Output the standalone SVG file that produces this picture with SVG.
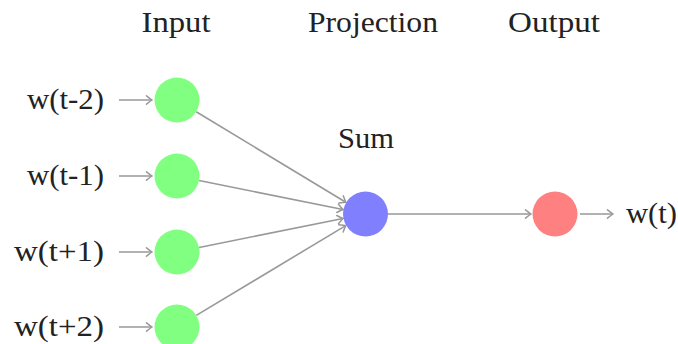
<svg xmlns="http://www.w3.org/2000/svg" width="678" height="344" viewBox="0 0 678 344">
  <style>
    text { font-family: "Liberation Serif", "Times New Roman", serif; font-size: 29px; fill: #222; }
    .lbl { text-anchor: end; }
    .ttl { text-anchor: middle; }
    .edge { stroke: #999; stroke-width: 1.6; fill: none; marker-end: url(#to); }
    .in { fill: #80ff80; }
    .proj { fill: #8080ff; }
    .out { fill: #ff8080; }
  </style>
  <defs>
    <!-- open "to"-style arrow tip -->
    <marker id="to" viewBox="-7 -6 9 12" refX="0" refY="0" markerWidth="9" markerHeight="12" markerUnits="userSpaceOnUse" orient="auto">
      <path d="M-5.5,-4.2 Q-1.5,-1 0,0 Q-1.5,1 -5.5,4.2" fill="none" stroke="#999" stroke-width="1.5" stroke-linecap="round"/>
    </marker>
  </defs>

  <!-- layer titles -->
  <text class="ttl" x="176" y="32" textLength="69" lengthAdjust="spacingAndGlyphs">Input</text>
  <text class="ttl" x="373" y="32" textLength="130" lengthAdjust="spacingAndGlyphs">Projection</text>
  <text class="ttl" x="554" y="32" textLength="92" lengthAdjust="spacingAndGlyphs">Output</text>

  <!-- connectors -->
  <g id="connectors">
    <line class="edge" x1="119" y1="100" x2="152" y2="100"/>
    <line class="edge" x1="119" y1="176" x2="152" y2="176"/>
    <line class="edge" x1="119" y1="252" x2="152" y2="252"/>
    <line class="edge" x1="119" y1="327" x2="152" y2="327"/>
    <line class="edge" x1="196.2" y1="111.7" x2="345.8" y2="202.3"/>
    <line class="edge" x1="199.1" y1="180.5" x2="343" y2="209.5"/>
    <line class="edge" x1="199.1" y1="247.5" x2="343" y2="218.5"/>
    <line class="edge" x1="196.3" y1="315.4" x2="345.7" y2="225.6"/>
    <line class="edge" x1="388" y1="214" x2="531" y2="214"/>
    <line class="edge" x1="580" y1="214" x2="613" y2="214"/>
  </g>

  <!-- input words -->
  <g id="in1"><text class="lbl" x="104" y="109" textLength="77" lengthAdjust="spacingAndGlyphs">w(t-2)</text><circle class="in" cx="177" cy="100" r="22.5"/></g>
  <g id="in2"><text class="lbl" x="104" y="185" textLength="77" lengthAdjust="spacingAndGlyphs">w(t-1)</text><circle class="in" cx="177" cy="176" r="22.5"/></g>
  <g id="in3"><text class="lbl" x="104" y="261" textLength="90" lengthAdjust="spacingAndGlyphs">w(t+1)</text><circle class="in" cx="177" cy="252" r="22.5"/></g>
  <g id="in4"><text class="lbl" x="104" y="336" textLength="90" lengthAdjust="spacingAndGlyphs">w(t+2)</text><circle class="in" cx="177" cy="327" r="22.5"/></g>

  <!-- projection -->
  <g id="sum">
    <text class="ttl" x="366" y="148" textLength="56" lengthAdjust="spacingAndGlyphs">Sum</text>
    <circle class="proj" cx="365.5" cy="214" r="22.5"/>
  </g>

  <!-- output word -->
  <g id="out">
    <circle class="out" cx="555" cy="214" r="22.5"/>
    <text x="626" y="223" textLength="51" lengthAdjust="spacingAndGlyphs">w(t)</text>
  </g>
</svg>
